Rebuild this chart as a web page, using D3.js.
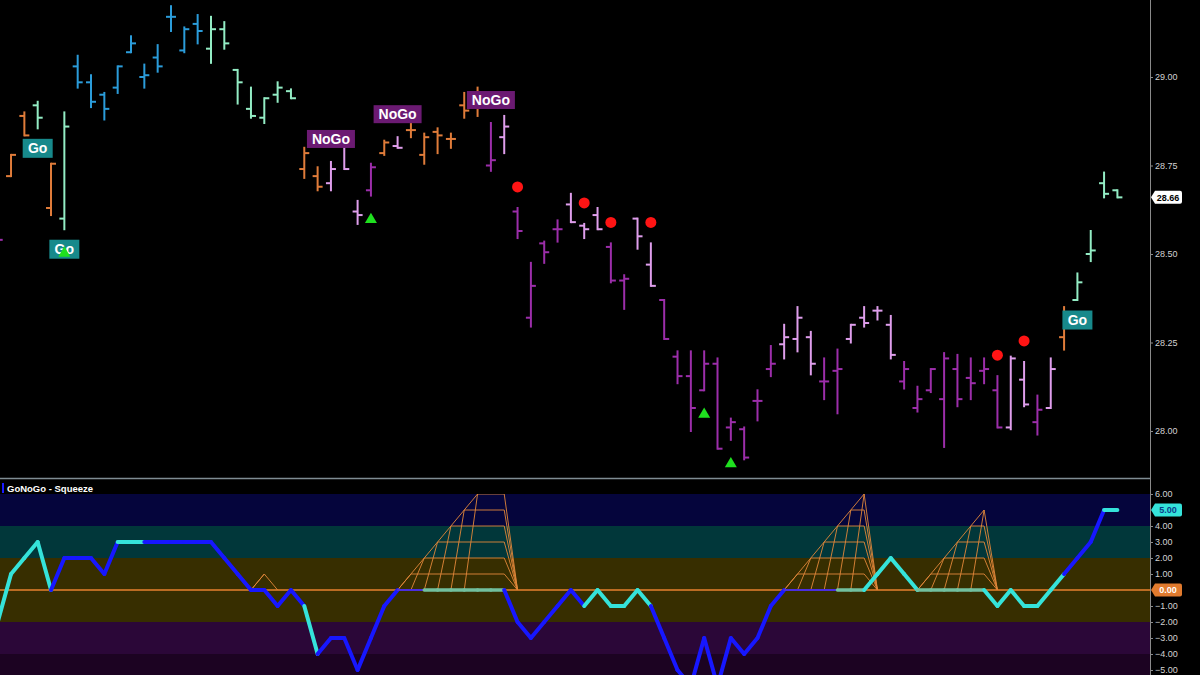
<!DOCTYPE html>
<html><head><meta charset="utf-8">
<script src="https://cdn.jsdelivr.net/npm/d3@7"></script>
<style>html,body{margin:0;padding:0;background:#000;}svg{display:block;}</style>
</head><body>
<svg id="chart" width="1200" height="675"></svg>
<script>
// ---------------- DATA ----------------
const opens  = [28.54,28.72,28.89,28.92,28.63,28.60,29.03,28.985,28.95,28.97,
                29.07,29.00,29.055,29.17,29.075,29.15,29.08,29.135,29.02,28.91,
                28.885,28.95,28.96,28.74,28.72,28.70,28.805,28.62,28.68,28.785,
                28.805,28.85,28.78,28.845,28.825,28.92,28.92,28.75,28.83,28.62,
                28.32,28.53,28.57,28.64,28.58,28.61,28.52,28.425,28.60,28.47,
                28.37,28.21,28.155,28.115,28.19,28.01,28.005,28.085,28.175,28.245,
                28.26,28.265,28.14,28.17,28.26,28.32,28.34,28.30,28.14,28.065,
                28.115,28.09,28.175,28.15,28.17,28.115,28.01,28.145,28.025,28.065,
                28.265,28.37,28.50,28.70,28.68];
const highs  = [28.56,28.78,28.90,28.93,28.755,28.90,29.06,29.005,28.955,29.03,
                29.115,29.035,29.09,29.20,29.14,29.175,29.17,29.155,29.02,28.97,
                28.94,28.985,28.965,28.80,28.745,28.76,28.805,28.65,28.755,28.82,
                28.83,28.87,28.84,28.855,28.84,28.955,28.97,28.87,28.89,28.63,
                28.475,28.535,28.595,28.67,28.585,28.63,28.53,28.44,28.60,28.53,
                28.37,28.225,28.225,28.225,28.205,28.035,28.01,28.115,28.24,28.30,
                28.35,28.28,28.205,28.23,28.30,28.35,28.35,28.325,28.195,28.125,
                28.175,28.22,28.215,28.205,28.205,28.155,28.21,28.195,28.10,28.205,
                28.35,28.445,28.565,28.73,28.68];
const lows   = [28.52,28.72,28.835,28.855,28.61,28.57,28.97,28.915,28.88,28.955,
                29.07,28.97,29.015,29.13,29.07,29.095,29.04,29.08,28.925,28.885,
                28.87,28.93,28.94,28.715,28.68,28.68,28.74,28.585,28.665,28.78,
                28.80,28.83,28.755,28.785,28.80,28.885,28.89,28.735,28.785,28.545,
                28.295,28.475,28.535,28.59,28.545,28.57,28.42,28.345,28.515,28.41,
                28.26,28.135,28.00,28.115,27.95,27.975,27.92,28.03,28.155,28.205,
                28.225,28.16,28.09,28.05,28.25,28.295,28.315,28.205,28.12,28.055,
                28.11,27.955,28.07,28.09,28.135,28.01,28.005,28.07,27.99,28.065,
                28.23,28.37,28.48,28.66,28.66];
const closes = [28.54,28.78,28.835,28.885,28.755,28.86,28.985,28.93,28.91,29.03,
                29.095,29.005,29.03,29.17,29.135,29.13,29.135,29.095,28.985,28.89,
                28.94,28.97,28.94,28.785,28.69,28.74,28.74,28.61,28.745,28.815,
                28.80,28.85,28.83,28.835,28.825,28.905,28.935,28.765,28.86,28.565,
                28.41,28.505,28.57,28.59,28.57,28.57,28.425,28.43,28.55,28.41,
                28.26,28.155,28.065,28.19,27.95,28.025,27.925,28.085,28.19,28.265,
                28.32,28.19,28.14,28.175,28.30,28.305,28.34,28.215,28.175,28.09,
                28.175,28.205,28.09,28.135,28.175,28.01,28.205,28.075,28.06,28.175,
                28.33,28.42,28.51,28.67,28.66];
// trend colour code of each bar: p=strong NoGo, l=weak NoGo, o=neutral, g=weak Go, b=strong Go
const barTrend = ("p"+"oogog"+"bbbbbbbbbb"+"ggggggg"+"oo"+"lll"+"p"+"o"+"l"+"oooooo"+"p"+"l"+
                  "pppp"+"lll"+"pp"+"ll"+"ppppppppp"+"lll"+"pp"+"llll"+"pppppppp"+"ll"+"p"+"l"+"o"+"gggg").split("");
const goLabelBars   = [3, 5, 81];
const noGoLabelBars = [25, 30, 37];
const redDotBars    = [39, 44, 46, 49, 75, 77];
const triangleBars  = [28, 53, 55, 5];

const oscValues = [-2,1,2,3,0,2,2,2,1,3, 3,3,3,3,3,3,3,2,1,0,
                   0,-1,0,-1,-4,-3,-3,-5,-3,-1, 0,0,0,0,0,0,0,0,0,-2,
                   -3,-2,-1,0,-1,0,-1,-1,0,-1, -3,-5,-6,-3,-6,-3,-4,-3,-1,0,
                   0,0,0,0,0,0,1,2,1,0, 0,0,0,0,0,-1,0,-1,-1,0,
                   1,2,3,5,5];
// colour of each oscillator segment (from bar i to i+1)
const oscSegTrend = ("cccc"+"bbbbb"+"cc"+"bbbbbbbbbbbb"+"c"+"bbbbbb"+"pp"+"gggggg"+"bbbbbb"+"ccccc"+
                     "bbbbbbbbbb"+"pppp"+"gg"+"cccc"+"ggggg"+"cccccc"+"bbb"+"c").split("");
const squeeze = [0,0,0,0,0,0,0,0,0,0, 0,0,0,0,0,0,0,0,0,0,
                 1,0,0,0,0,0,0,0,0,0, 0,1,2,3,4,5,6,6,6,0,
                 0,0,0,0,0,0,0,0,0,0, 0,0,0,0,0,0,0,0,0,0,
                 1,2,3,4,5,6,0,0,0,0, 1,2,3,4,5,0,0,0,0,0,
                 0,0,0,0,0];
const priceTicks = [28.00, 28.25, 28.50, 28.75, 29.00];
const oscTicks = [-5,-4,-3,-2,-1,0,1,2,3,4,5,6];
const oscBands = [[6,4,"#05053c"],[4,2,"#01373a"],[2,-2,"#372e00"],[-2,-4,"#2b0738"],[-4,-6,"#1c0322"]];

// ---------------- SETUP ----------------
const svg = d3.select("#chart");
const plotRight = 1150;
const x  = d3.scaleLinear().domain([0, 84]).range([-2.3, 1117.4]);
const yP = d3.scaleLinear().domain([28, 29]).range([431, 77]);
const yO = d3.scaleLinear().domain([-5, 6]).range([670, 494]);
const font = "'Liberation Sans', Arial, sans-serif";

svg.append("rect").attr("width",1200).attr("height",675).attr("fill","#000");
const defs = svg.append("defs");
defs.append("clipPath").attr("id","clipTop").append("rect").attr("x",0).attr("y",0).attr("width",plotRight).attr("height",477);
defs.append("clipPath").attr("id","clipBot").append("rect").attr("x",0).attr("y",494).attr("width",plotRight).attr("height",181);

// ---------------- PRICE PANEL ----------------
const barColor = {p:"#9c2eaa", l:"#df9eec", o:"#e07c3a", g:"#93ecc4", b:"#2b9cda"};
const priceG = svg.append("g").attr("clip-path","url(#clipTop)");
const bars = priceG.selectAll("g.bar").data(d3.range(opens.length)).join("g")
  .attr("stroke", i => barColor[barTrend[i]]).attr("stroke-width", 2);
bars.append("line").attr("x1", i=>x(i)).attr("x2", i=>x(i)).attr("y1", i=>yP(highs[i])-1).attr("y2", i=>yP(lows[i])+1);
bars.append("line").attr("x1", i=>x(i)-5).attr("x2", i=>x(i)).attr("y1", i=>yP(opens[i])).attr("y2", i=>yP(opens[i]));
bars.append("line").attr("x1", i=>x(i)).attr("x2", i=>x(i)+5).attr("y1", i=>yP(closes[i])).attr("y2", i=>yP(closes[i]));

// Go labels (below low)
goLabelBars.forEach(i => {
  const cx = x(i), cy = yP(lows[i]) + 20;
  priceG.append("rect").attr("x", cx-15).attr("y", cy-9.5).attr("width",30).attr("height",19).attr("fill","#17898b");
  priceG.append("text").attr("x",cx).attr("y",cy+5).attr("text-anchor","middle").attr("fill","#fff")
    .attr("font-family",font).attr("font-weight","bold").attr("font-size",14).text("Go");
});
// NoGo labels (above high)
noGoLabelBars.forEach(i => {
  const cx = x(i), cy = yP(highs[i]) - 23;
  priceG.append("rect").attr("x", cx-24).attr("y", cy-9).attr("width",48).attr("height",18).attr("fill","#6b1a72");
  priceG.append("text").attr("x",cx).attr("y",cy+5).attr("text-anchor","middle").attr("fill","#fff")
    .attr("font-family",font).attr("font-weight","bold").attr("font-size",14).text("NoGo");
});
// red dots
priceG.selectAll("circle.rd").data(redDotBars).join("circle")
  .attr("cx", i=>x(i)).attr("cy", i=>yP(highs[i])-21).attr("r",5.5).attr("fill","#ff1414");
// green triangles
priceG.selectAll("path.tri").data(triangleBars).join("path")
  .attr("d", d3.symbol().type(d3.symbolTriangle).size(62))
  .attr("transform", i=>`translate(${x(i)},${yP(lows[i])+24})`).attr("fill","#1fe01f");

// ---------------- OSCILLATOR PANEL ----------------
svg.append("line").attr("x1",0).attr("x2",plotRight).attr("y1",478.5).attr("y2",478.5)
  .attr("stroke","#7f8c93").attr("stroke-width",1.5);
const oscG = svg.append("g").attr("clip-path","url(#clipBot)");
oscBands.forEach(b => {
  oscG.append("rect").attr("x",0).attr("width",plotRight).attr("y",yO(b[0])).attr("height",yO(b[1])-yO(b[0])).attr("fill",b[2]);
});

// squeeze grid
const line = d3.line().x(d=>x(d[0])).y(d=>yO(d[1]));
const runs = [];
for (let i=0;i<squeeze.length;) {
  if (squeeze[i]>0) { const a=i; while(i<squeeze.length && squeeze[i]>0) i++; runs.push([a,i-1]); }
  else i++;
}
const sqG = oscG.append("g").attr("fill","none").attr("stroke","#e2873a").attr("stroke-width",1).attr("stroke-opacity",0.9);
runs.forEach(([a,b]) => {
  const K = d3.max(squeeze.slice(a,b+1));
  const outer = [[a-1,0]];
  for (let j=a;j<=b;j++){ outer.push([j,squeeze[j]]); if (squeeze[j]===K) break; }
  sqG.append("path").attr("d", line(outer));
  for (let k=1;k<=K;k++){
    let j0=a; while(squeeze[j0]<k) j0++;
    sqG.append("path").attr("d", line([[j0-1,0],[j0,k],[b,k],[b+1,0]]));
  }
});
// zero line
oscG.append("line").attr("x1",0).attr("x2",plotRight).attr("y1",yO(0)).attr("y2",yO(0))
  .attr("stroke","#e8822e").attr("stroke-width",1.6);
// oscillator
const segStyle = {c:["#35e3da",4], b:["#1717ff",4], p:["#4b2ee0",2], g:["#72c09e",3.5]};
oscG.selectAll("path.osc").data(d3.range(oscValues.length-1)).join("path")
  .attr("d", i => line([[i,oscValues[i]],[i+1,oscValues[i+1]]]))
  .attr("fill","none").attr("stroke", i=>segStyle[oscSegTrend[i]][0])
  .attr("stroke-width", i=>segStyle[oscSegTrend[i]][1]).attr("stroke-linecap","round");

// title
svg.append("rect").attr("x",2).attr("y",483).attr("width",2).attr("height",10).attr("fill","#1a1aff");
svg.append("text").attr("x",7).attr("y",491.5).attr("fill","#fff").attr("font-family",font)
  .attr("font-weight","bold").attr("font-size",9.5).text("GoNoGo - Squeeze");

// ---------------- AXES ----------------
const lastOsc = oscValues[oscValues.length-1];
svg.append("line").attr("x1",plotRight+0.5).attr("x2",plotRight+0.5).attr("y1",0).attr("y2",675)
  .attr("stroke","#8a8a8a").attr("stroke-width",1);
const axP = svg.append("g").attr("transform",`translate(${plotRight},0)`)
  .call(d3.axisRight(yP).tickValues(priceTicks).tickFormat(d3.format(".2f")).tickSize(3).tickPadding(2));
// tick labels hidden under the value tags are left out
const axO = svg.append("g").attr("transform",`translate(${plotRight},0)`)
  .call(d3.axisRight(yO).tickValues(oscTicks.filter(t => t !== 0 && t !== lastOsc)).tickFormat(d3.format(".2f")).tickSize(3).tickPadding(2));
[axP, axO].forEach(a => {
  a.select(".domain").remove();
  a.selectAll(".tick line").attr("stroke","#8a8a8a");
  a.selectAll(".tick text").attr("fill","#d2d2d2").attr("font-family",font).attr("font-size",9);
});

// value tags
function tag(y, txt, fill, color) {
  const g = svg.append("g");
  g.append("path").attr("d",`M${plotRight+1},${y} L${plotRight+5},${y-6.5} L${plotRight+30},${y-6.5} Q${plotRight+32},${y-6.5} ${plotRight+32},${y-4.5} L${plotRight+32},${y+4.5} Q${plotRight+32},${y+6.5} ${plotRight+30},${y+6.5} L${plotRight+5},${y+6.5} Z`)
    .attr("fill",fill);
  g.append("text").attr("x",plotRight+18).attr("y",y+3.3).attr("text-anchor","middle").attr("fill",color)
    .attr("font-family",font).attr("font-weight","bold").attr("font-size",9).text(txt);
}
tag(yP(closes[closes.length-1]), d3.format(".2f")(closes[closes.length-1]), "#ffffff", "#000");
tag(yO(lastOsc), d3.format(".2f")(lastOsc), "#35e3da", "#0b3d8a");
tag(yO(0), "0.00", "#e07a2e", "#ffffff");
</script>
</body></html>
